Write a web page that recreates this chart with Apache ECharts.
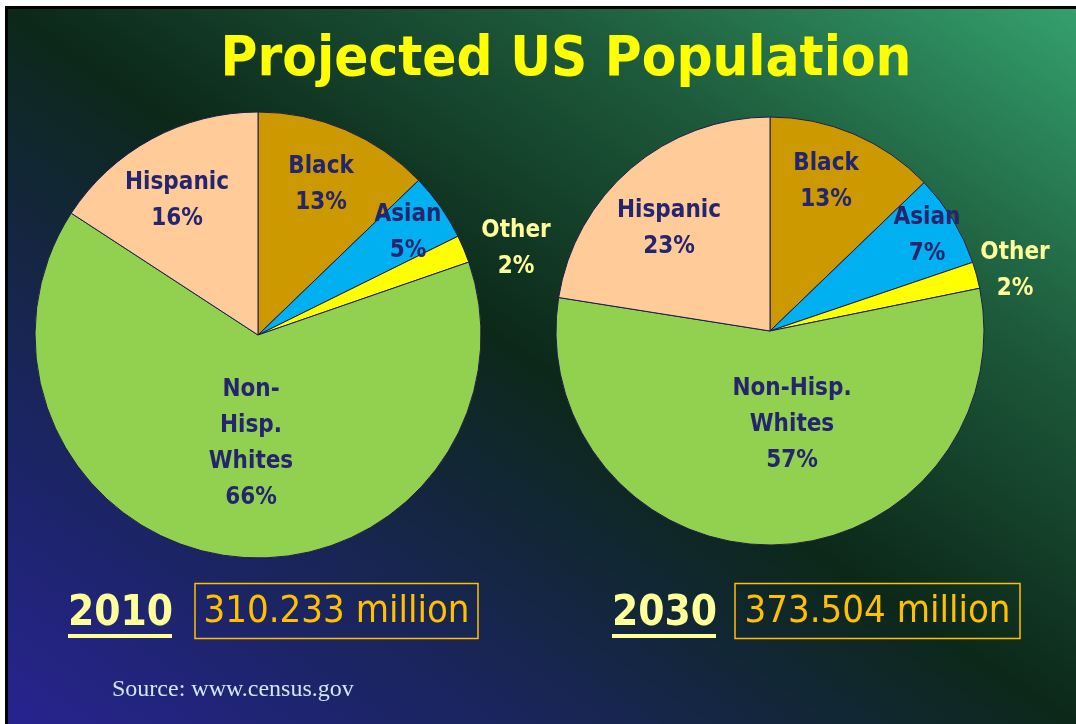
<!DOCTYPE html>
<html>
<head>
<meta charset="utf-8">
<title>Projected US Population</title>
<script src="https://cdn.jsdelivr.net/npm/echarts@6/dist/echarts.min.js"></script>
<style>
  html, body { margin: 0; padding: 0; background: #fff; }
  #chart { width: 1076px; height: 724px; }
</style>
</head>
<body>
<div id="chart"></div>
<script>
// categories, clockwise from 12 o'clock
const groups = ['Black', 'Asian', 'Other', 'Non-Hisp. Whites', 'Hispanic'];

// slice shares (angles), and the printed labels
const share2010 = [12.8, 4.9, 2.0, 64.5, 15.8];
const share2030 = [12.8, 7.0, 2.0, 55.7, 22.5];
const pct2010 = ['13%', '5%', '2%', '66%', '16%'];
const pct2030 = ['13%', '7%', '2%', '57%', '23%'];
const names2010 = ['Black', 'Asian', 'Other', 'Non-\nHisp.\nWhites', 'Hispanic'];
const names2030 = ['Black', 'Asian', 'Other', 'Non-Hisp.\nWhites', 'Hispanic'];

const years = ['2010', '2030'];
const totals = ['310.233 million', '373.504 million'];

const colors = ['#cc9900', '#00b0f0', '#ffff00', '#92d050', '#ffcc99'];
const labelColors = ['#24246f', '#24246f', '#ffff99', '#24246f', '#24246f'];

// where the slide put each label (centre of the text block)
const labelPos2010 = [[321, 185], [408, 233], [516, 249], [251, 444], [177, 201]];
const labelPos2030 = [[826, 182], [927, 236], [1015, 271], [792, 425], [669, 229]];

const FONT = '"DejaVu Sans Condensed", "DejaVu Sans", sans-serif';

const myChart = echarts.init(document.getElementById('chart'));

function pieSeries(shares, names, pcts, pos, center, radius) {
  return {
    type: 'pie',
    center: center,
    radius: radius,
    startAngle: 90,
    clockwise: true,
    avoidLabelOverlap: false,
    silent: true,
    itemStyle: { borderColor: '#1c1c4e', borderWidth: 1 },
    label: {
      show: true,
      position: 'inside',
      fontFamily: FONT,
      fontWeight: 'bold',
      fontSize: 24,
      lineHeight: 36,
      align: 'center'
    },
    labelLine: { show: false },
    labelLayout: function (p) {
      return { x: pos[p.dataIndex][0], y: pos[p.dataIndex][1], align: 'center', verticalAlign: 'middle' };
    },
    data: groups.map(function (g, i) {
      return {
        name: g,
        value: shares[i],
        itemStyle: { color: colors[i] },
        label: { color: labelColors[i], formatter: names[i] + '\n' + pcts[i] }
      };
    })
  };
}

const bg = new echarts.graphic.LinearGradient(210, 859, 870, -129, [
  { offset: 0, color: '#27238f' },
  { offset: 0.25, color: '#19255a' },
  { offset: 0.5, color: '#0c2819' },
  { offset: 0.75, color: '#1d5a3b' },
  { offset: 1, color: '#34a06d' }
], true);

const bottomTexts = [];
[[68, 195, 283], [612, 735, 285]].forEach(function (b, i) {
  bottomTexts.push(
    { type: 'text', left: b[0], top: 593, z: 5,
      style: { text: years[i], fill: '#ffff99', font: 'bold 42px ' + FONT } },
    { type: 'rect', shape: { x: b[0], y: 634, width: 104, height: 4 }, z: 5,
      style: { fill: '#ffff99' } },
    { type: 'rect', shape: { x: b[1], y: 583.5, width: b[2], height: 55 }, z: 5,
      style: { fill: 'none', stroke: '#ffc000', lineWidth: 1.5 } },
    { type: 'text', x: b[1] + b[2] / 2, y: 612, z: 5,
      style: { text: totals[i], fill: '#ffc000', font: '38px ' + FONT, align: 'center', verticalAlign: 'middle' } }
  );
});

const option = {
  backgroundColor: '#ffffff',
  animation: false,
  title: {
    text: 'Projected US Population',
    left: 561,
    top: 27,
    textAlign: 'center',
    textStyle: { color: '#ffff00', fontFamily: FONT, fontWeight: 'bold', fontSize: 56 }
  },
  graphic: [
    { type: 'rect', shape: { x: 5, y: 6, width: 1071, height: 718 }, z: -20, style: { fill: '#000' } },
    { type: 'rect', shape: { x: 8, y: 9, width: 1068, height: 715 }, z: -19, style: { fill: bg } },
    { type: 'text', left: 112, top: 678, z: 5,
      style: { text: 'Source: www.census.gov', fill: '#d3e6f7', font: '24px "Liberation Serif", "Times New Roman", serif' } }
  ].concat(bottomTexts),
  series: [
    pieSeries(share2010, names2010, pct2010, labelPos2010, [258, 335], 223),
    pieSeries(share2030, names2030, pct2030, labelPos2030, [770, 331], 214)
  ]
};

myChart.setOption(option);
</script>
</body>
</html>
